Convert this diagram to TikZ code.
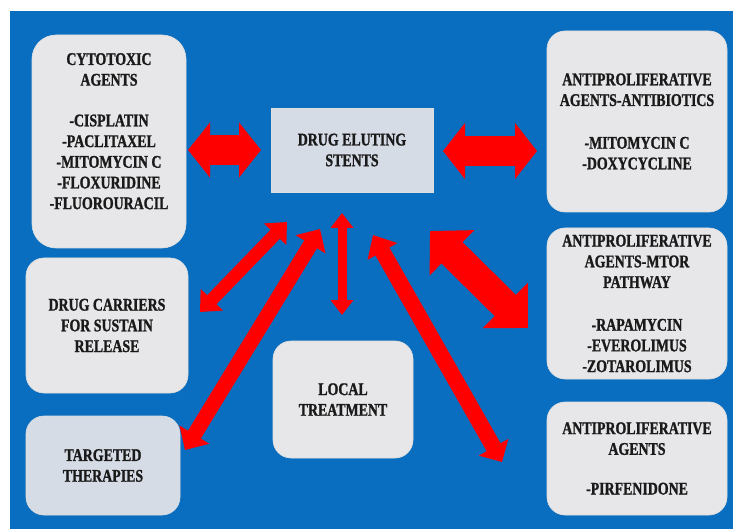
\documentclass[tikz,border=0pt]{standalone}
\usepackage{fontspec}
\newfontfamily\lblfont{Liberation Serif}[FakeStretch=0.78,FakeBold=1.2,UprightFont=*-Bold,BoldFont=*-Bold]
\usetikzlibrary{arrows.meta}
\definecolor{bgblue}{HTML}{0A6EC0}
\definecolor{boxgray}{HTML}{E7E6E8}
\definecolor{boxblue}{HTML}{D6DCE5}
\definecolor{txtc}{HTML}{1A1A1A}
\definecolor{arrred}{HTML}{FF0000}
\begin{document}
\begin{tikzpicture}[x=1pt,y=-1pt,
  box/.style={rounded corners=18pt, fill=boxgray, draw=white!75!gray, line width=0.6pt,
    align=center, text=txtc, font=\lblfont\fontsize{17.8}{20.7}\selectfont, inner sep=2pt},
  dbl/.style n args={4}{draw=arrred, line width=#1,
    arrows={Triangle[length=#3,width=#2]-Triangle[length=#4,width=#2]}}]
\useasboundingbox (0,0) rectangle (733,529);
\fill[white] (0,0) rectangle (733,529);
\fill[bgblue] (10,11) rectangle (733,529);

% boxes
\node[box, rounded corners=24pt, minimum width=154pt, minimum height=213pt] (cyto) at (109,141.5)
  {CYTOTOXIC\\AGENTS\\[20pt]-CISPLATIN\\-PACLITAXEL\\-MITOMYCIN C\\-FLOXURIDINE\\-FLUOROURACIL\\ \mbox{}};
\node[box, rounded corners=0pt, fill=boxblue, minimum width=162pt, minimum height=84pt] (des) at (352,150)
  {DRUG ELUTING\\STENTS};
\node[box, minimum width=180pt, minimum height=181pt] (anti1) at (637,121.5)
  {ANTIPROLIFERATIVE\\AGENTS-ANTIBIOTICS\\[22pt]-MITOMYCIN C\\-DOXYCYCLINE};
\node[box, minimum width=180pt, minimum height=151pt] (mtor) at (637,303.5)
  {ANTIPROLIFERATIVE\\AGENTS-MTOR\\PATHWAY\\[22pt]-RAPAMYCIN\\-EVEROLIMUS\\-ZOTAROLIMUS};
\node[box, minimum width=180pt, minimum height=113pt] (pirf) at (637,458.5)
  {ANTIPROLIFERATIVE\\AGENTS\\[19pt]-PIRFENIDONE};
\node[box, minimum width=162pt, minimum height=135pt] (carr) at (107,325.5)
  {DRUG CARRIERS\\FOR SUSTAIN\\RELEASE};
\node[box, fill=boxblue, minimum width=154pt, minimum height=99pt] (targ) at (103,465.5)
  {TARGETED\\THERAPIES};
\node[box, minimum width=140pt, minimum height=117pt] (local) at (343,399.5)
  {LOCAL\\TREATMENT};

% arrow end points
\coordinate (a1s) at (188,150);  \coordinate (a1e) at (261,150);
\coordinate (a2s) at (443,151);  \coordinate (a2e) at (537,151);
\coordinate (a3s) at (287,222);  \coordinate (a3e) at (200,312);
\coordinate (a4s) at (320,229);  \coordinate (a4e) at (185,450);
\coordinate (a5s) at (342,213);  \coordinate (a5e) at (342,315);
\coordinate (a6s) at (373,235);  \coordinate (a6e) at (502,462);
\coordinate (a7s) at (430,231);  \coordinate (a7e) at (528,328);

\draw[dbl={30pt}{54pt}{22pt}{22pt}] (a1s) -- (a1e);
\draw[dbl={30pt}{55pt}{22pt}{22pt}] (a2s) -- (a2e);
\draw[dbl={13pt}{30pt}{17pt}{17pt}] (a3s) -- (a3e);
\draw[dbl={15pt}{34pt}{18pt}{18pt}] (a4s) -- (a4e);
\draw[dbl={9pt}{22pt}{15pt}{15pt}] (a5s) -- (a5e);
\draw[dbl={16pt}{33pt}{19pt}{17pt}] (a6s) -- (a6e);
\draw[dbl={30pt}{62pt}{31pt}{32pt}] (a7s) -- (a7e);
\end{tikzpicture}
\end{document}
